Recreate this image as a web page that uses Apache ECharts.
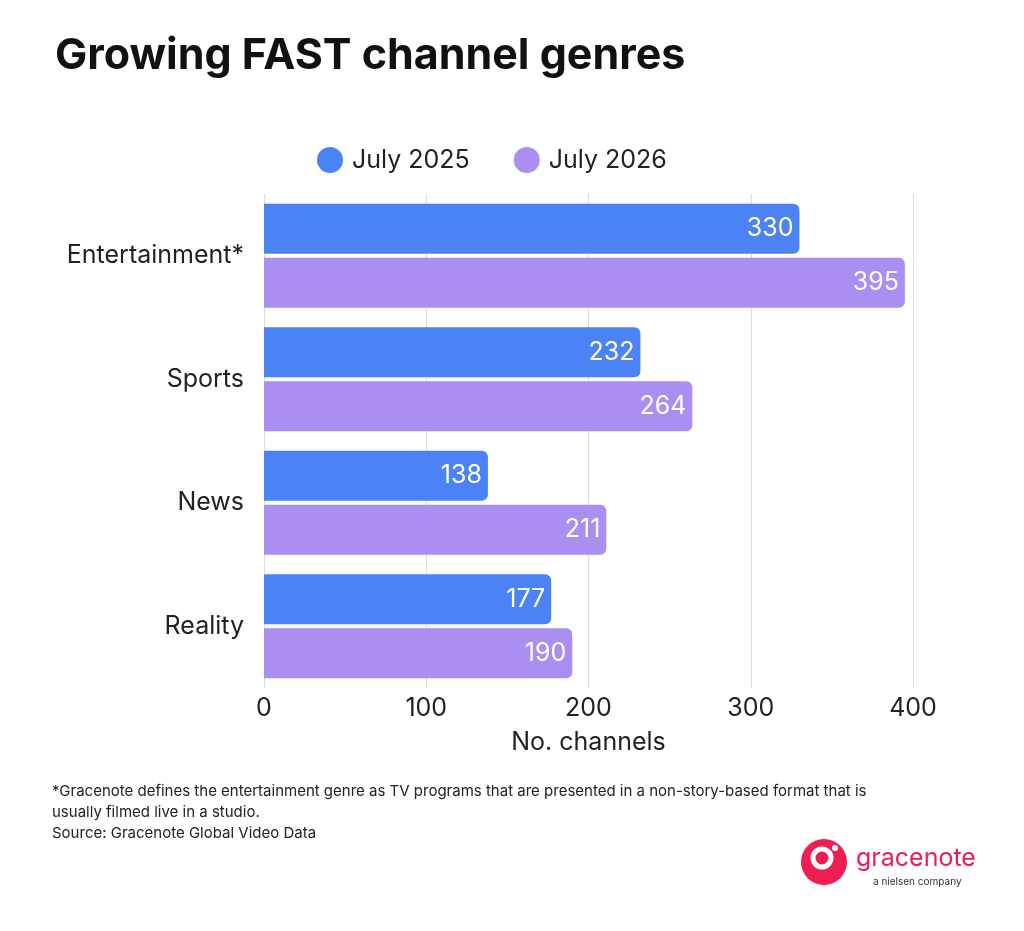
<!DOCTYPE html>
<html lang="en">
<head>
<meta charset="UTF-8">
<title>Growing FAST channel genres</title>
<script src="https://cdn.jsdelivr.net/npm/echarts@6/dist/echarts.min.js"></script>
<style>body{margin:0;background:#fff}</style>
</head>
<body>
<div id="main" style="width:1024px;height:931px;"></div>
<script>
  const genres = ['Entertainment*', 'Sports', 'News', 'Reality'];
  const july2025 = [330, 232, 138, 177];
  const july2026 = [395, 264, 211, 190];
  const font = 'Inter, "Noto Sans", sans-serif';

  const myChart = echarts.init(document.getElementById('main'));
  const barLabel = {
    show: true, position: 'insideRight', color: '#fff',
    fontSize: 25, fontFamily: font, distance: 6
  };
  const option = {
    color: ['#4b82f5', '#ab8ef2'],
    title: {
      text: 'Growing FAST channel genres',
      left: 50, top: 30,
      textStyle: { fontSize: 43, fontWeight: 'bold', color: '#111', fontFamily: font }
    },
    legend: {
      top: 142, left: 312,
      icon: 'circle', itemWidth: 26, itemHeight: 26, itemGap: 44,
      textStyle: { fontSize: 25, color: '#222', fontFamily: font, padding: [0, 0, 0, 4] }
    },
    grid: { left: 264, right: 111, top: 194, bottom: 243 },
    xAxis: {
      type: 'value', min: 0, max: 400, interval: 100,
      name: 'No. channels', nameLocation: 'center', nameGap: 42,
      nameTextStyle: { fontSize: 25, color: '#222', fontFamily: font },
      axisLabel: { fontSize: 25, color: '#222', fontFamily: font, margin: 8 },
      splitLine: { lineStyle: { color: '#dcdcdc' } }
    },
    yAxis: {
      type: 'category', data: genres, inverse: true,
      axisLine: { show: false }, axisTick: { show: false },
      axisLabel: { fontSize: 25, color: '#222', fontFamily: font, margin: 20 }
    },
    series: [
      { name: 'July 2025', type: 'bar', data: july2025, barWidth: 50, barGap: '8%',
        itemStyle: { borderRadius: [0, 6, 6, 0] }, label: barLabel },
      { name: 'July 2026', type: 'bar', data: july2026, barWidth: 50,
        itemStyle: { borderRadius: [0, 6, 6, 0] }, label: barLabel }
    ],
    graphic: [
      { type: 'text', left: 52, top: 781, style: {
          text: '*Gracenote defines the entertainment genre as TV programs that are presented in a non-story-based format that is\nusually filmed live in a studio.\nSource: Gracenote Global Video Data',
          font: '15px ' + font, fill: '#222', lineHeight: 21 } },
      { type: 'circle', shape: { cx: 824, cy: 862, r: 23 }, style: { fill: '#ee1d52' } },
      { type: 'circle', shape: { cx: 822, cy: 858, r: 9 }, style: { fill: 'none', stroke: '#fff', lineWidth: 5 } },
      { type: 'circle', shape: { cx: 835, cy: 848, r: 3 }, style: { fill: '#fff' } },
      { type: 'text', left: 856, top: 846, style: { text: 'gracenote', font: '25px ' + font, fill: '#ee1d52' } },
      { type: 'text', left: 873, top: 877, style: { text: 'a nielsen company', font: '10px ' + font, fill: '#333' } }
    ]
  };
  myChart.setOption(option);
</script>
</body>
</html>
